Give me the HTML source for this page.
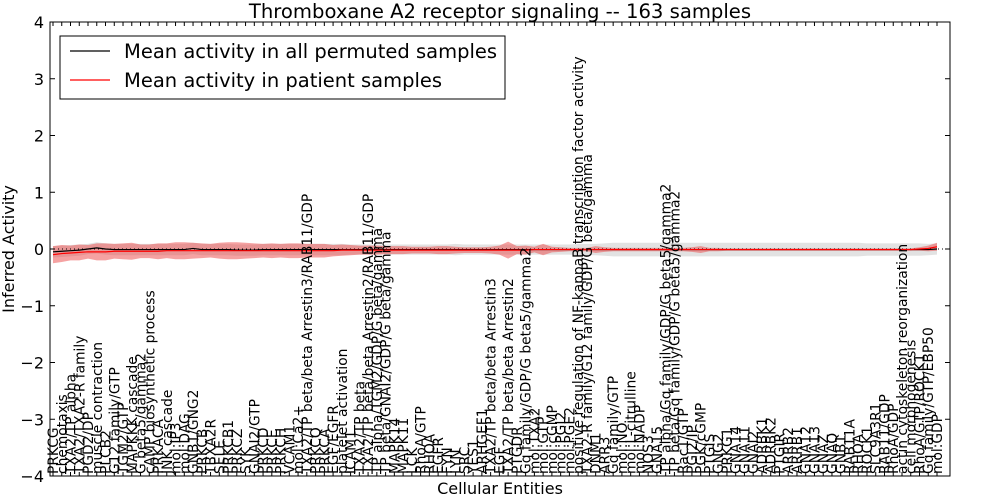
<!DOCTYPE html>
<html><head><meta charset="utf-8"><style>
html,body{margin:0;padding:0;background:#fff;}
svg{display:block;font-family:"DejaVu Sans","Liberation Sans",sans-serif;}
</style></head><body>
<svg id="chart" width="1000" height="500" viewBox="0 0 1000 500"></svg>
<script>
const labels = ["PRKCG","chemotaxis","TXA2/TP alpha","TXA2/TXA2-R family","PGD2/DP","muscle contraction","PLCB2","G12 family/GTP","TGM2/GTP","MAPKKK cascade","G beta5/gamma2","cAMP biosynthetic process","PRKACA","JNK cascade","mol:IP3","mol:DAG","GNB1/GNG2","PRKCB","TBXA2R","SELE","PRKCB1","PRKCZ","SYK","GNAI2/GTP","PRKCD","PRKCE","PRKCH","VCAM1","mol:Ca2+","TXA2/TP beta/beta Arrestin3/RAB11/GDP","PRKCQ","PRKCA","EGF/EGFR","platelet activation","ICAM1","TXA2/TP beta","TXA2/TP beta/beta Arrestin2/RAB11/GDP","TP alpha/TGM2/GDP/G beta/gamma","TP beta/GNAI2/GDP/G beta/gamma","MAPK14","MAPK11","LCK","RhoA/GTP","RHOA","EGFR","FYN","LYN","SRC","YES1","ARHGEF1","TXA2/TP beta/beta Arrestin3","EGF","TXA2/TP beta/beta Arrestin2","PTGDR","Gq family/GDP/G beta5/gamma2","mol:TXA2","mol:GTP","mol:cGMP","mol:PGI2","mol:PGE2","positive regulation of NF-kappaB transcription factor activity","TXA2-R family/G12 family/GDP/G beta/gamma","DNM1","ARR3","Gq family/GTP","mol:NO","mol:L-citrulline","mol:NADP","NOS3","GNA15","TP alpha/Gq family/GDP/G beta5/gamma2","TP beta/Gq family/GDP/G beta5/gamma2","Rac1/GTP","PGI2/IP","PGK/cGMP","PTGIS","GNG2","PRKG1","GNA14","GNA11","GNAI2","ADRBK1","ADRBK2","PTGIR","ARRB2","ARRB1","GNA12","GNA13","GNAZ","GNAQ","GNB1","RAB11A","RHOA","ROCK1","SLC9A3R1","RAB11/GDP","RhoA/GDP","actin cytoskeleton reorganization","cell morphogenesis","RhoA/GTP/ROCK1","Gq family/GTP/EBP50","mol:GDP"];
const patientMean = [-0.1,-0.08,-0.07,-0.06,-0.05,-0.05,-0.05,-0.04,-0.04,-0.04,
-0.04,-0.04,-0.04,-0.03,-0.03,-0.03,-0.03,-0.03,-0.03,-0.03,
-0.03,-0.03,-0.03,-0.03,-0.03,-0.03,-0.03,-0.03,-0.03,-0.03,
-0.03,-0.03,-0.03,-0.02,-0.02,-0.02,-0.02,-0.02,-0.02,-0.02,
-0.02,-0.02,-0.02,-0.02,-0.02,-0.02,-0.02,-0.02,-0.02,-0.02,
-0.02,-0.02,-0.02,-0.02,-0.02,-0.01,-0.01,-0.01,-0.01,-0.01,
-0.01,-0.01,-0.01,-0.01,-0.01,-0.01,-0.01,-0.01,-0.01,-0.01,
-0.01,-0.01,-0.01,-0.01,-0.01,-0.01,-0.01,-0.01,-0.01,-0.01,
-0.01,-0.01,-0.01,-0.01,-0.01,-0.01,-0.01,-0.01,-0.01,-0.01,
-0.01,-0.01,-0.01,-0.01,-0.01,-0.01,-0.01,-0.01,-0.01,0.0,
0.01,0.04];
const patientSpread = [0.15,0.15,0.13,0.14,0.12,0.15,0.15,0.13,0.14,0.15,
0.12,0.12,0.14,0.13,0.15,0.15,0.14,0.13,0.12,0.14,
0.15,0.15,0.14,0.13,0.12,0.13,0.12,0.13,0.13,0.12,
0.12,0.12,0.1,0.1,0.09,0.08,0.08,0.08,0.07,0.07,
0.07,0.06,0.06,0.06,0.07,0.07,0.06,0.05,0.05,0.05,
0.06,0.08,0.15,0.07,0.08,0.05,0.1,0.05,0.04,0.03,
0.03,0.03,0.06,0.04,0.03,0.03,0.03,0.03,0.03,0.03,
0.03,0.03,0.03,0.04,0.06,0.03,0.03,0.02,0.02,0.02,
0.02,0.02,0.02,0.02,0.02,0.02,0.02,0.02,0.02,0.02,
0.02,0.02,0.02,0.02,0.02,0.02,0.02,0.02,0.02,0.03,
0.05,0.07];
const permutedMean = [-0.05,-0.04,-0.03,-0.02,0.0,0.02,0.0,-0.01,-0.01,-0.01,
-0.01,-0.01,-0.01,-0.01,-0.01,-0.01,0.01,-0.01,-0.01,-0.01,
-0.01,-0.02,-0.02,-0.02,-0.01,-0.01,-0.01,-0.01,-0.01,-0.01,
-0.01,-0.01,-0.01,-0.01,-0.01,-0.01,-0.01,-0.01,-0.01,-0.01,
-0.01,-0.01,-0.01,-0.01,-0.01,-0.01,-0.01,-0.01,-0.01,-0.01,
-0.01,-0.01,-0.01,-0.01,-0.01,-0.01,-0.01,-0.01,-0.01,-0.01,
-0.01,-0.01,-0.01,-0.01,-0.01,-0.01,-0.01,-0.01,-0.01,-0.01,
-0.01,-0.01,-0.01,-0.01,-0.01,-0.01,-0.01,-0.01,-0.01,-0.01,
-0.01,-0.01,-0.01,-0.01,-0.01,-0.01,-0.01,-0.01,-0.01,-0.01,
-0.01,-0.01,-0.01,-0.01,-0.01,-0.01,-0.01,-0.01,-0.01,-0.01,
-0.01,0.0];
const permutedSpread = [0.1,0.1,0.1,0.1,0.09,0.1,0.1,0.1,0.1,0.1,
0.1,0.1,0.1,0.1,0.1,0.1,0.1,0.1,0.1,0.1,
0.1,0.1,0.1,0.1,0.1,0.1,0.1,0.1,0.1,0.1,
0.1,0.1,0.1,0.1,0.09,0.09,0.09,0.09,0.09,0.09,
0.09,0.09,0.09,0.09,0.09,0.09,0.1,0.09,0.09,0.09,
0.09,0.09,0.09,0.09,0.09,0.09,0.09,0.09,0.09,0.09,
0.1,0.1,0.1,0.11,0.12,0.12,0.12,0.12,0.12,0.12,
0.12,0.12,0.12,0.12,0.12,0.12,0.12,0.12,0.12,0.12,
0.12,0.12,0.12,0.12,0.12,0.12,0.12,0.12,0.12,0.12,
0.12,0.12,0.12,0.11,0.11,0.11,0.11,0.11,0.11,0.11,
0.1,0.1];
const yTicks = [-4,-3,-2,-1,0,1,2,3,4];

const NS="http://www.w3.org/2000/svg";
const svg=document.getElementById('chart');
const L=50,R=950,T=22,B=476;
const n=labels.length;
function xs(i){return 53+i*(937-53)/(n-1);}
function ys(v){return 249-v*(B-T)/8;}
function mk(tag,attrs,parent){const e=document.createElementNS(NS,tag);for(const k in attrs)e.setAttribute(k,attrs[k]);(parent||svg).appendChild(e);return e;}

function band(mean,spread,fill){
  let top=[],bot=[];
  for(let i=0;i<n;i++){top.push(xs(i)+','+ys(mean[i]+spread[i]));bot.unshift(xs(i)+','+ys(mean[i]-spread[i]));}
  return mk('polygon',{points:top.concat(bot).join(' '),fill:fill});
}
const pb=band(permutedMean,permutedSpread,'rgba(190,190,190,0.45)');


const rb=band(patientMean,patientSpread,'rgba(235,70,70,0.5)');



const zl=mk('line',{x1:L,x2:R,y1:ys(0),y2:ys(0),stroke:'#000','stroke-dasharray':'1,3','stroke-width':1});



function line(vals,color){
  const pts=vals.map((v,i)=>xs(i)+','+ys(v)).join(' ');
  return mk('polyline',{points:pts,fill:'none',stroke:color,'stroke-width':1.2});
}
const pl=line(permutedMean,'#000');


const rl=line(patientMean,'#f00');



for(let i=0;i<n;i++){
  const x=xs(i);
  const t=mk('text',{x:0,y:0,transform:`translate(${x+5},474) rotate(-90)`,'font-size':'13.8','fill':'#000'});
  t.textContent=labels[i];
  
  
  mk('line',{x1:x,x2:x,y1:B,y2:B-4,stroke:'#000'});
  mk('line',{x1:x,x2:x,y1:T,y2:T+4,stroke:'#000'});
}
yTicks.forEach(v=>{
  const y=ys(v);
  mk('line',{x1:L,x2:L+5,y1:y,y2:y,stroke:'#000'});
  mk('line',{x1:R,x2:R-5,y1:y,y2:y,stroke:'#000'});
  const t=mk('text',{x:44,y:y+6,'text-anchor':'end','font-size':'16'});
  t.textContent=(v<0?'\u2212'+(-v):String(v));
  
  
});
const fr=mk('rect',{x:L,y:T,width:R-L,height:B-T,fill:'none',stroke:'#000','stroke-width':1});



const title=mk('text',{x:500,y:18,'text-anchor':'middle','font-size':'19.6'});
title.textContent='Thromboxane A2 receptor signaling -- 163 samples';


const yt=mk('text',{x:0,y:0,transform:'translate(14,249) rotate(-90)','text-anchor':'middle','font-size':'16'});
yt.textContent='Inferred Activity';


const xt=mk('text',{x:500,y:494,'text-anchor':'middle','font-size':'16'});
xt.textContent='Cellular Entities';



const lg=mk('g',{});


mk('rect',{x:60,y:36,width:445,height:63,fill:'#fff',stroke:'#000'},lg);
mk('line',{x1:70,x2:110,y1:51,y2:51,stroke:'#000','stroke-width':1.2},lg);
mk('line',{x1:70,x2:110,y1:80,y2:80,stroke:'#f00','stroke-width':1.2},lg);
const l1=mk('text',{x:124,y:58,'font-size':'19.5'},lg);
l1.textContent='Mean activity in all permuted samples';


const l2=mk('text',{x:124,y:87,'font-size':'19.5'},lg);
l2.textContent='Mean activity in patient samples';


</script>
</body></html>
